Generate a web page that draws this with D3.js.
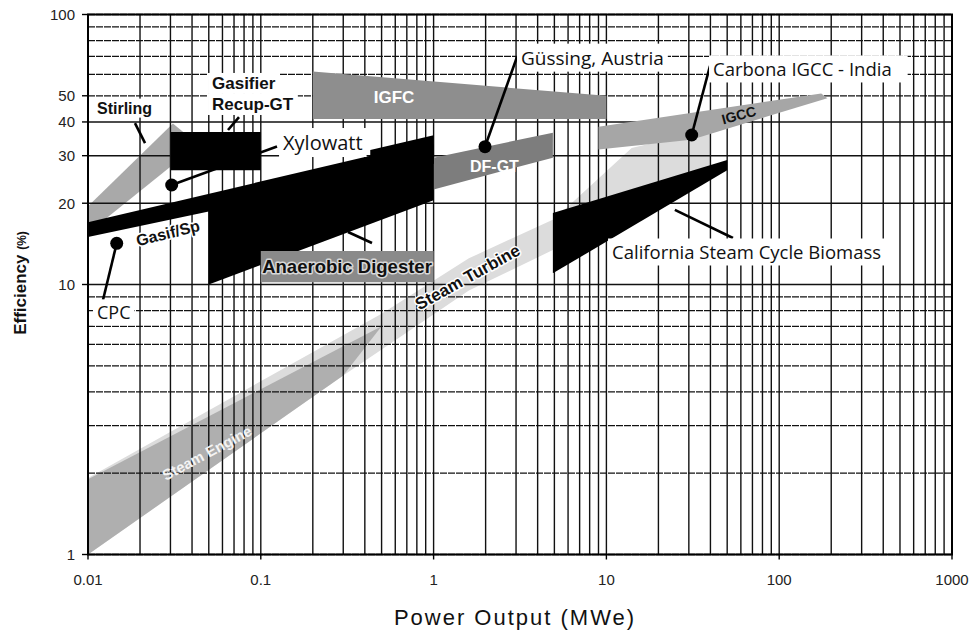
<!DOCTYPE html>
<html>
<head>
<meta charset="utf-8">
<script src="https://cdn.jsdelivr.net/npm/d3@7"></script>
<style>
  body { margin: 0; background: #fff; }
  svg { display: block; }
</style>
</head>
<body>
<div id="chart"></div>
<script>
var width = 973,
    height = 632;

// axis tick labels
var xTicks = [0.01, 0.1, 1, 10, 100, 1000];
var yTicks = [1, 10, 20, 30, 40, 50, 100];

// technology regions as [power MWe, efficiency %] outlines
var steamTurbine = [[0.01, 1.0], [0.01, 1.92], [0.5, 7.8], [1.6, 12.5], [5, 17.5], [14, 32], [40, 37.5], [40, 27], [14, 21], [5, 13.5], [1.6, 9.5], [0.3, 4.6]];
var steamEngine  = [[0.01, 1.0], [0.01, 1.9], [0.5, 7.0], [0.3, 4.6]];
var stirling     = [[0.01, 15.5], [0.01, 19.5], [0.031, 39.5], [0.036, 36.5], [0.036, 30]];
var igfc         = [[0.2, 41], [0.2, 61.5], [10, 50], [10, 41]];
var igcc         = [[9, 31.6], [9, 38.4], [175, 51], [190, 49], [31, 34.4]];
var dfgt         = [[1, 22.5], [1, 29.5], [4.9, 36.5], [4.9, 29.5]];
var gasifSpark   = [[0.01, 15.0], [0.01, 17.0], [0.43, 30], [1, 33], [1, 28]];
var gasifStep    = [[0.43, 28], [0.43, 31.5], [1, 35.7], [1, 28]];
var anaerobic    = [[0.05, 10], [0.05, 20], [1, 30], [1, 20.5]];
var recupGT      = [[0.0302, 26.5], [0.0302, 36.7], [0.1, 36.7], [0.1, 26.5]];
var california   = [[4.9, 11.0], [4.9, 18.4], [50, 28.9], [50, 26.5]];
var digesterBox  = [[0.1, 10.2], [0.1, 13.3], [1, 13.3], [1, 10.2]];

// plants: point, end of leader line, label anchor
var plantNames  = ["CPC", "Xylowatt", "Güssing, Austria", "Carbona IGCC - India"];
var plantX      = [0.01466, 0.0305, 1.984, 31.16];
var plantY      = [14.21, 23.36, 32.39, 35.79];
var leaderEndX  = [0.01221, 0.1241, 3.038, 39.77];
var leaderEndY  = [8.76, 32.44, 69.6, 64.5];
var plantLabelX = [0.01127, 0.1345, 3.205, 41.4];
var plantLabelY = [7.84, 33.42, 69.0, 62.3];

var svg = d3.select("#chart").append("svg")
    .attr("width", width)
    .attr("height", height);

var x = d3.scaleLog().domain([0.01, 1000]).range([88, 952]);
var y = d3.scaleLog().domain([1, 100]).range([554.5, 14.5]);

var outline = d3.line()
    .x(function (d) { return x(d[0]); })
    .y(function (d) { return y(d[1]); });

function region(pts, fill) {
  return svg.append("path")
      .attr("d", outline(pts) + "Z")
      .attr("fill", fill);
}

// see-through bands go under the grid
region(steamTurbine, "#dcdcdc");
region(steamEngine, "#afafaf");
region(stirling, "#a9a9a9");

// log grid
var grid = svg.append("g");
grid.selectAll(".vx")
    .data(x.ticks())
  .enter().append("line")
    .attr("x1", function (d) { return x(d); })
    .attr("x2", function (d) { return x(d); })
    .attr("y1", y(100))
    .attr("y2", y(1))
    .attr("stroke", "#111")
    .attr("stroke-width", 1.4);

grid.selectAll(".hy")
    .data(y.ticks())
  .enter().append("line")
    .attr("x1", x(0.01))
    .attr("x2", x(1000))
    .attr("y1", function (d) { return y(d); })
    .attr("y2", function (d) { return y(d); })
    .attr("stroke", "#111")
    .attr("stroke-width", function (d) { return [10, 20, 30, 40].indexOf(d) >= 0 ? 1.6 : 1.3; })
    .attr("stroke-dasharray", function (d) { return [10, 20, 30, 40].indexOf(d) >= 0 ? null : "7,1"; });

svg.append("rect")
    .attr("x", x(0.01))
    .attr("y", y(100))
    .attr("width", x(1000) - x(0.01))
    .attr("height", y(1) - y(100))
    .attr("fill", "none")
    .attr("stroke", "#000")
    .attr("stroke-width", 2);

// tick marks + labels
svg.selectAll(".xt")
    .data(xTicks)
  .enter().append("line")
    .attr("x1", function (d) { return x(d); })
    .attr("x2", function (d) { return x(d); })
    .attr("y1", y(1))
    .attr("y2", y(1) + 5)
    .attr("stroke", "#000")
    .attr("stroke-width", 1.4);

svg.selectAll(".yt")
    .data(yTicks)
  .enter().append("line")
    .attr("x1", x(0.01) - 6)
    .attr("x2", x(0.01))
    .attr("y1", function (d) { return y(d); })
    .attr("y2", function (d) { return y(d); })
    .attr("stroke", "#000")
    .attr("stroke-width", 1.4);

svg.selectAll(".xl")
    .data(xTicks)
  .enter().append("text")
    .attr("x", function (d) { return x(d); })
    .attr("y", 585)
    .style("text-anchor", "middle")
    .style("font-family", "Liberation Sans, Arial, sans-serif")
    .style("font-size", "15px")
    .style("fill", "#222")
    .text(function (d) { return String(d); });

svg.selectAll(".yl")
    .data(yTicks)
  .enter().append("text")
    .attr("x", 75)
    .attr("y", function (d) { return y(d); })
    .attr("dy", "0.36em")
    .style("text-anchor", "end")
    .style("font-family", "Liberation Sans, Arial, sans-serif")
    .style("font-size", "15px")
    .style("fill", "#222")
    .text(function (d) { return String(d); });

svg.append("text")
    .attr("x", 515)
    .attr("y", 625)
    .style("text-anchor", "middle")
    .style("font-family", "Liberation Sans, Arial, sans-serif")
    .style("font-size", "22px")
    .style("letter-spacing", "2px")
    .style("fill", "#111")
    .text("Power Output (MWe)");

var ytitle = svg.append("text")
    .attr("transform", "translate(26,283) rotate(-90)")
    .style("text-anchor", "middle")
    .style("font-family", "Liberation Sans, Arial, sans-serif")
    .style("font-weight", "bold")
    .style("font-size", "17px")
    .style("fill", "#111")
    .text("Efficiency ");
ytitle.append("tspan").style("font-size", "12px").text("(%)");

// opaque regions on top of the grid
region(igfc, "#8e8e8e");
region(igcc, "#a6a6a6");
region(dfgt, "#7d7d7d");
region(gasifSpark, "#000");
region(anaerobic, "#000");
region(gasifStep, "#000");
region(recupGT, "#000");
region(california, "#000");
region(digesterBox, "#8a8a8a");

// leader lines
function leader(x1, y1, x2, y2) {
  svg.append("line")
      .attr("x1", x(x1)).attr("y1", y(y1))
      .attr("x2", x(x2)).attr("y2", y(y2))
      .attr("stroke", "#000")
      .attr("stroke-width", 2.6);
}
plantNames.forEach(function (n, i) {
  leader(plantX[i], plantY[i], leaderEndX[i], leaderEndY[i]);
});
leader(0.0187, 39.6, 0.02138, 33.4);     // Stirling
leader(0.0646, 37.35, 0.0748, 41.7);     // Gasifier Recup-GT
leader(0.3196, 15.65, 0.44, 14.24);      // Anaerobic Digester
leader(24.9, 18.9, 54.0, 14.87);         // California

svg.selectAll(".plant")
    .data(plantNames)
  .enter().append("circle")
    .attr("cx", function (d, i) { return x(plantX[i]); })
    .attr("cy", function (d, i) { return y(plantY[i]); })
    .attr("r", 6.5)
    .attr("fill", "#000");

// boxed labels
function boxed(txt, xv, yv, size, bold, padR) {
  var g = svg.append("g");
  var t = g.append("text")
      .attr("x", x(xv))
      .attr("y", y(yv))
      .attr("dy", "0.35em")
      .style("font-family", bold ? "Liberation Sans, Arial, sans-serif" : "Open Sans, Noto Sans, sans-serif")
      .style("font-weight", bold ? "bold" : "normal")
      .style("font-size", size + "px")
      .style("fill", "#111")
      .text(txt);
  var b = t.node().getBBox();
  g.insert("rect", "text")
      .attr("x", b.x - 4)
      .attr("y", b.y - 1)
      .attr("width", b.width + 8 + (padR || 0))
      .attr("height", b.height + 2)
      .attr("fill", "#fff");
  return t;
}

var plantFont = [18, 20, 19, 18.5];
plantNames.forEach(function (n, i) {
  boxed(n, plantLabelX[i], plantLabelY[i], plantFont[i], false, i === 3 ? 12 : 0);
});
boxed("California Steam Cycle Biomass", 10.78, 13.08, 18.5, false, 2);
boxed("Stirling", 0.01127, 45.05, 16, true);
boxed("Gasifier", 0.0522, 55.75, 17, true);
boxed("Recup-GT", 0.0522, 46.6, 17, true);

// labels sitting on the regions
function tag(txt, xv, yv, angle, size, fill, halo) {
  var t = svg.append("text")
      .attr("transform", "translate(" + x(xv) + "," + y(yv) + ") rotate(" + angle + ")")
      .attr("dy", "0.35em")
      .style("text-anchor", "middle")
      .style("font-family", "Liberation Sans, Arial, sans-serif")
      .style("font-weight", "bold")
      .style("font-size", size + "px")
      .style("fill", fill)
      .text(txt);
  if (halo) {
    t.style("stroke", halo)
     .style("stroke-width", "3px")
     .style("paint-order", "stroke")
     .style("stroke-linejoin", "round");
  }
  return t;
}

tag("IGFC", 0.59, 49.6, 0, 17, "#fff");
tag("DF-GT", 2.25, 27.3, 0, 16, "#fff");
tag("IGCC", 58.5, 42.4, -15, 14, "#111");
tag("Anaerobic Digester", 0.3154, 11.7, 0, 18.5, "#111", "#d8d8d8");
tag("Steam Turbine", 1.571, 10.66, -29, 17, "#111", "#fff");
tag("Steam Engine", 0.0488, 2.376, -28, 15, "#f4f4f4");
tag("Gasif/Sp", 0.029, 15.51, -14, 16, "#111", "#fff");
</script>
</body>
</html>
